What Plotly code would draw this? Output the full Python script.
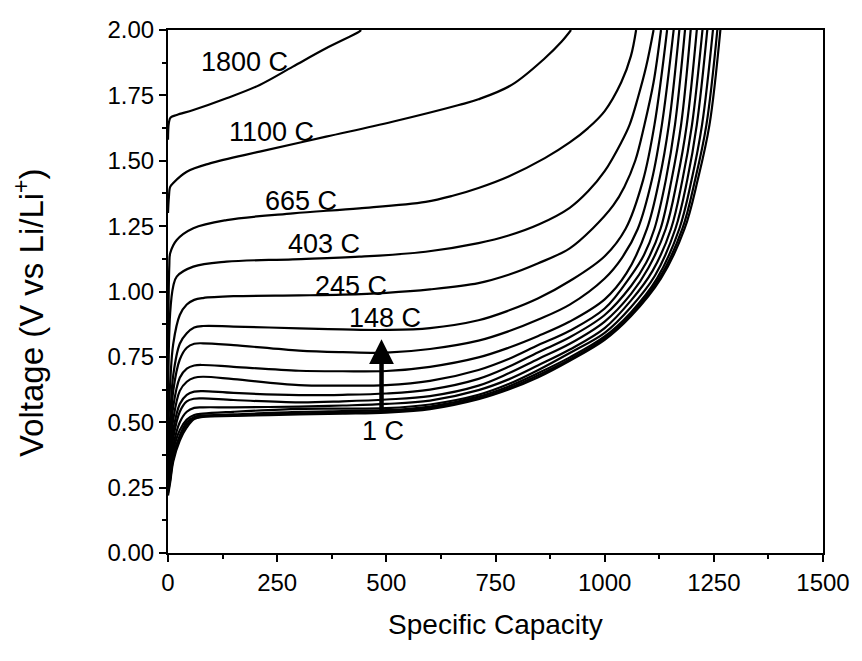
import plotly.graph_objects as go

# Discharge curves at increasing C-rates: specific capacity vs voltage
rate_labels = ["1 C", "1.6 C", "2.7 C", "4.5 C", "7.4 C", "12 C", "20 C", "33 C",
               "55 C", "90 C", "148 C", "245 C", "403 C", "665 C", "1100 C", "1800 C"]

cap_1 = [0, 5, 12, 27, 43, 60, 80, 150, 300, 400, 500, 600, 711, 780, 848, 920, 1000, 1060, 1129, 1183, 1213, 1240, 1265]
volt_1 = [0.22, 0.27, 0.35, 0.43, 0.48, 0.512, 0.520, 0.524, 0.530, 0.533, 0.537, 0.550, 0.588, 0.625, 0.672, 0.735, 0.815, 0.905, 1.05, 1.24, 1.426, 1.637, 2.0]

cap_1p6 = [0, 5, 12, 27, 43, 60, 80, 150, 300, 400, 500, 600, 711, 780, 848, 920, 1000, 1060, 1125, 1178, 1207, 1233, 1258]
volt_1p6 = [0.23, 0.28, 0.36, 0.44, 0.49, 0.515, 0.522, 0.526, 0.534, 0.537, 0.541, 0.555, 0.592, 0.630, 0.680, 0.740, 0.822, 0.912, 1.05, 1.24, 1.426, 1.637, 2.0]

cap_2p7 = [0, 5, 12, 27, 43, 60, 80, 150, 300, 400, 500, 600, 711, 780, 848, 920, 1000, 1060, 1120, 1171, 1199, 1223, 1248]
volt_2p7 = [0.24, 0.29, 0.37, 0.45, 0.50, 0.520, 0.526, 0.530, 0.540, 0.543, 0.546, 0.560, 0.598, 0.637, 0.688, 0.748, 0.828, 0.92, 1.05, 1.24, 1.426, 1.637, 2.0]

cap_4p5 = [0, 5, 12, 27, 43, 60, 80, 150, 300, 400, 500, 600, 711, 780, 848, 920, 1000, 1060, 1115, 1162, 1189, 1211, 1235]
volt_4p5 = [0.25, 0.30, 0.39, 0.47, 0.51, 0.528, 0.533, 0.540, 0.551, 0.552, 0.554, 0.568, 0.605, 0.646, 0.700, 0.765, 0.842, 0.94, 1.06, 1.24, 1.426, 1.637, 2.0]

cap_7p4 = [0, 5, 12, 27, 43, 60, 80, 150, 300, 400, 500, 600, 711, 780, 848, 920, 1000, 1060, 1110, 1152, 1178, 1200, 1224]
volt_7p4 = [0.26, 0.32, 0.41, 0.50, 0.540, 0.555, 0.557, 0.557, 0.560, 0.564, 0.570, 0.583, 0.623, 0.664, 0.718, 0.778, 0.86, 0.965, 1.08, 1.24, 1.426, 1.637, 2.0]

cap_12 = [0, 5, 12, 27, 43, 60, 80, 150, 300, 400, 500, 600, 711, 780, 848, 920, 1000, 1060, 1100, 1140, 1166, 1188, 1211]
volt_12 = [0.27, 0.34, 0.44, 0.54, 0.580, 0.590, 0.591, 0.585, 0.576, 0.580, 0.587, 0.600, 0.640, 0.687, 0.742, 0.800, 0.885, 0.99, 1.09, 1.24, 1.426, 1.637, 2.0]

cap_20 = [0, 5, 12, 27, 43, 60, 80, 150, 300, 400, 500, 600, 711, 780, 848, 920, 1000, 1060, 1095, 1128, 1153, 1175, 1197]
volt_20 = [0.28, 0.36, 0.47, 0.57, 0.605, 0.617, 0.619, 0.612, 0.604, 0.605, 0.610, 0.625, 0.666, 0.712, 0.768, 0.825, 0.91, 1.02, 1.11, 1.24, 1.426, 1.637, 2.0]

cap_33 = [0, 5, 12, 27, 43, 60, 80, 150, 300, 400, 500, 600, 711, 780, 848, 920, 1000, 1060, 1090, 1114, 1140, 1161, 1184]
volt_33 = [0.30, 0.39, 0.51, 0.62, 0.655, 0.670, 0.674, 0.665, 0.642, 0.640, 0.642, 0.658, 0.700, 0.742, 0.795, 0.850, 0.935, 1.06, 1.14, 1.24, 1.426, 1.637, 2.0]

cap_55 = [0, 5, 12, 27, 43, 60, 80, 150, 300, 400, 500, 600, 711, 780, 848, 920, 1000, 1050, 1097, 1125, 1147, 1171]
volt_55 = [0.32, 0.42, 0.56, 0.67, 0.705, 0.717, 0.719, 0.712, 0.697, 0.695, 0.696, 0.712, 0.748, 0.785, 0.830, 0.885, 0.97, 1.07, 1.24, 1.426, 1.637, 2.0]

cap_90 = [0, 5, 12, 27, 43, 60, 80, 150, 300, 400, 500, 600, 711, 780, 848, 920, 1000, 1040, 1076, 1108, 1131, 1158]
volt_90 = [0.35, 0.46, 0.62, 0.74, 0.785, 0.800, 0.802, 0.795, 0.774, 0.768, 0.766, 0.780, 0.812, 0.848, 0.893, 0.95, 1.05, 1.13, 1.24, 1.426, 1.637, 2.0]

cap_148 = [0, 5, 12, 27, 43, 60, 80, 150, 300, 400, 500, 600, 711, 780, 848, 920, 1000, 1048, 1088, 1114, 1143]
volt_148 = [0.40, 0.52, 0.68, 0.80, 0.840, 0.862, 0.868, 0.866, 0.859, 0.855, 0.853, 0.860, 0.890, 0.927, 0.974, 1.04, 1.135, 1.24, 1.426, 1.637, 2.0]

cap_245 = [0, 5, 12, 27, 43, 60, 80, 150, 300, 400, 500, 600, 711, 780, 848, 920, 972, 1020, 1045, 1070, 1091, 1112, 1129]
volt_245 = [0.45, 0.65, 0.80, 0.91, 0.95, 0.968, 0.975, 0.982, 0.985, 0.988, 0.995, 1.008, 1.032, 1.064, 1.108, 1.165, 1.24, 1.33, 1.40, 1.50, 1.637, 1.80, 2.0]

cap_403 = [0, 5, 12, 20, 58, 134, 286, 438, 590, 711, 780, 850, 920, 962, 1000, 1038, 1057, 1076, 1095, 1112]
volt_403 = [0.55, 0.92, 1.02, 1.057, 1.095, 1.114, 1.123, 1.133, 1.152, 1.185, 1.214, 1.257, 1.32, 1.383, 1.46, 1.57, 1.637, 1.74, 1.86, 2.0]

cap_665 = [0, 3, 5, 20, 58, 134, 286, 438, 590, 650, 711, 780, 863, 920, 962, 1000, 1038, 1060, 1072]
volt_665 = [0.70, 1.10, 1.146, 1.197, 1.242, 1.273, 1.299, 1.318, 1.343, 1.365, 1.396, 1.44, 1.51, 1.57, 1.625, 1.69, 1.80, 1.90, 2.0]

cap_1100 = [0, 2, 5, 12, 43, 96, 210, 362, 514, 666, 711, 787, 863, 901, 923]
volt_1100 = [1.30, 1.36, 1.40, 1.415, 1.458, 1.49, 1.535, 1.592, 1.649, 1.713, 1.735, 1.79, 1.892, 1.955, 2.0]

cap_1800 = [0, 2, 6, 20, 58, 134, 210, 286, 362, 438, 442]
volt_1800 = [1.58, 1.645, 1.665, 1.675, 1.694, 1.739, 1.79, 1.86, 1.93, 1.994, 2.0]

caps = [cap_1, cap_1p6, cap_2p7, cap_4p5, cap_7p4, cap_12, cap_20, cap_33,
        cap_55, cap_90, cap_148, cap_245, cap_403, cap_665, cap_1100, cap_1800]
volts = [volt_1, volt_1p6, volt_2p7, volt_4p5, volt_7p4, volt_12, volt_20, volt_33,
         volt_55, volt_90, volt_148, volt_245, volt_403, volt_665, volt_1100, volt_1800]

# In-plot rate labels (text, capacity, voltage)
label_text = ["1800 C", "1100 C", "665 C", "403 C", "245 C", "148 C", "1 C"]
label_cap = [175, 237, 305, 358, 419, 497, 492]
label_volt = [1.878, 1.610, 1.346, 1.182, 1.021, 0.899, 0.467]

# Arrow showing the direction of increasing rate
arrow_cap = 489
arrow_from = 0.534
arrow_to = 0.817

FONT = "Liberation Sans, Arial, sans-serif"

fig = go.Figure()
for name, x, y in zip(rate_labels, caps, volts):
    fig.add_trace(go.Scatter(
        x=x, y=y, mode="lines", name=name,
        line=dict(color="black", width=2.2, shape="spline", smoothing=1.0),
        showlegend=False, hoverinfo="name+x+y",
    ))

annotations = []
for t, cx, vy in zip(label_text, label_cap, label_volt):
    annotations.append(dict(x=cx, y=vy, xref="x", yref="y", text=t, showarrow=False,
                            font=dict(family=FONT, size=27, color="black")))

annotations.append(dict(
    x=arrow_cap, y=arrow_to, ax=arrow_cap, ay=arrow_from,
    xref="x", yref="y", axref="x", ayref="y",
    text="", showarrow=True, arrowhead=2, arrowsize=1.1, arrowwidth=4.5,
    arrowcolor="black", standoff=0, startstandoff=0,
))

annotations.append(dict(
    x=-0.212, y=0.459, xref="paper", yref="paper", xanchor="center", yanchor="middle",
    text="Voltage (V vs Li/Li<sup>+</sup>)", textangle=-90, showarrow=False,
    font=dict(family=FONT, size=33, color="black"),
))

fig.update_layout(
    width=862, height=661,
    margin=dict(l=168, r=36, t=30, b=108),
    paper_bgcolor="white", plot_bgcolor="white",
    font=dict(family=FONT, size=24, color="black"),
    annotations=annotations,
)

fig.update_xaxes(
    range=[0, 1500], tickvals=[0, 250, 500, 750, 1000, 1250, 1500],
    ticks="outside", ticklen=7, tickwidth=1.5, tickcolor="black",
    minor=dict(tickvals=[125, 375, 625, 875, 1125, 1375], ticks="outside", ticklen=4, tickwidth=1.5, tickcolor="black"),
    showline=True, linewidth=2, linecolor="black", mirror=True,
    showgrid=False, zeroline=False,
    title=dict(text="Specific Capacity", font=dict(family=FONT, size=28), standoff=20),
    tickfont=dict(family=FONT, size=24),
)
fig.update_yaxes(
    range=[0, 2.0], tickvals=[0, 0.25, 0.5, 0.75, 1.0, 1.25, 1.5, 1.75, 2.0],
    ticktext=["0.00", "0.25", "0.50", "0.75", "1.00", "1.25", "1.50", "1.75", "2.00"],
    ticks="outside", ticklen=7, tickwidth=1.5, tickcolor="black",
    minor=dict(tickvals=[0.125, 0.375, 0.625, 0.875, 1.125, 1.375, 1.625, 1.875], ticks="outside", ticklen=4, tickwidth=1.5, tickcolor="black"),
    showline=True, linewidth=2, linecolor="black", mirror=True,
    showgrid=False, zeroline=False,
    tickfont=dict(family=FONT, size=24),
)

fig.write_html("out.html")
